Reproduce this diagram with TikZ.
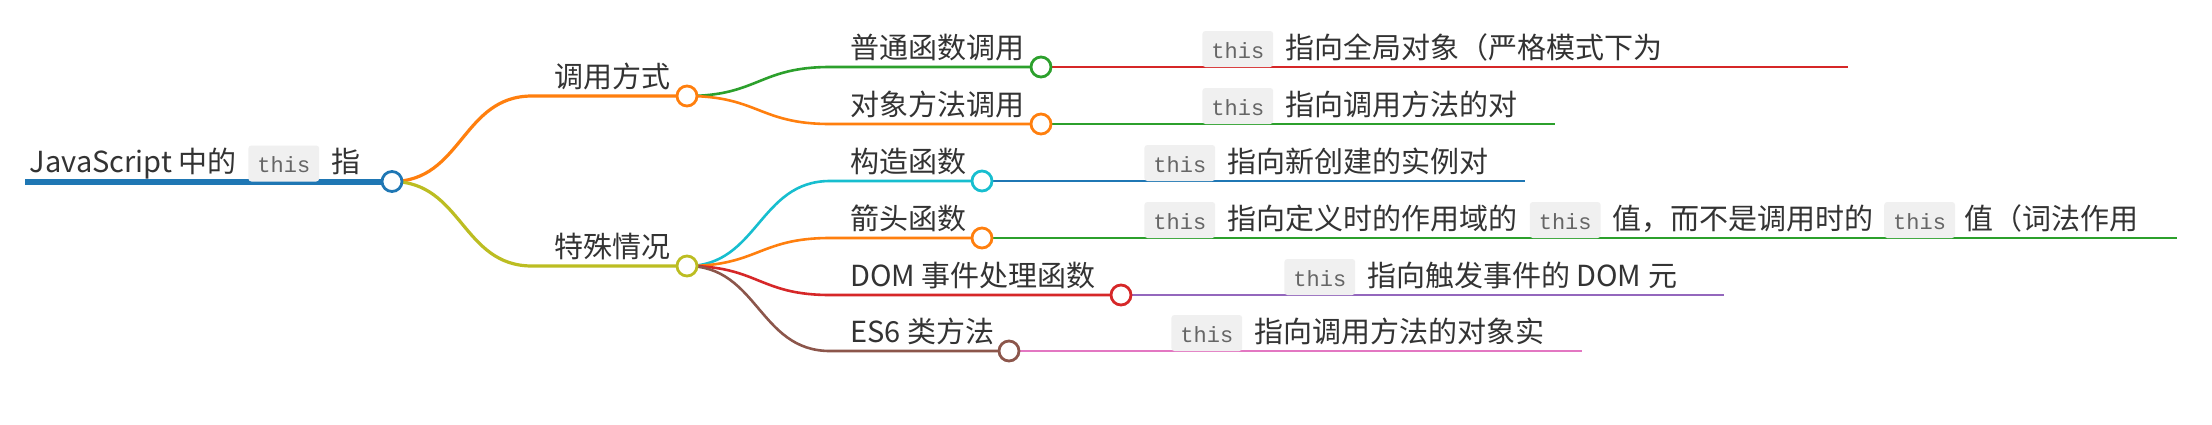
\documentclass[tikz,border=0pt]{standalone}
\usepackage{fontspec}
\setmainfont{Noto Sans CJK SC}
\newfontfamily\codefont{Liberation Mono}
\usetikzlibrary{calc,backgrounds}
\definecolor{cblue}{HTML}{1F77B4}
\definecolor{corange}{HTML}{FF7F0E}
\definecolor{cgreen}{HTML}{2CA02C}
\definecolor{cred}{HTML}{D62728}
\definecolor{cpurple}{HTML}{9467BD}
\definecolor{cbrown}{HTML}{8C564B}
\definecolor{cpink}{HTML}{E377C2}
\definecolor{colive}{HTML}{BCBD22}
\definecolor{ccyan}{HTML}{17BECF}
\definecolor{textgray}{HTML}{333333}
\definecolor{codebg}{HTML}{F0F0F0}
\definecolor{codegray}{HTML}{666666}
\begin{document}
\begin{tikzpicture}[x=0.5pt,y=-0.5pt,
  lbl/.style={anchor=base west, inner sep=0pt, text=textgray,
    font=\fontsize{14.5pt}{17pt}\selectfont},
  lblr/.style={lbl, anchor=base east},
  codebox/.style={anchor=base west, inner xsep=4.5pt, inner ysep=0pt,
    text height=13.5pt, text depth=4.5pt, fill=codebg, rounded corners=1.5pt,
    text=codegray, font=\codefont\fontsize{11pt}{13pt}\selectfont},
  knob/.style={circle, draw=#1, fill=white, line width=1.4pt,
    minimum size=10pt, inner sep=0pt},
  rootline/.style={line width=3pt},
  linkA/.style={line width=1.6pt, line join=round},
  linkB/.style={line width=1.3pt, line join=round},
  leafline/.style={line width=1.2pt},
]
\useasboundingbox (0,0) rectangle (2212,424);

% circles
\node[knob=cblue] (root) at (392,181.5) {};
\node[knob=corange] (a) at (687,96) {};
\node[knob=colive] (b) at (687,266) {};
\node[knob=cgreen] (a1) at (1041,67) {};
\node[knob=corange] (a2) at (1041,124) {};
\node[knob=ccyan] (b1) at (982,181) {};
\node[knob=corange] (b2) at (982,238) {};
\node[knob=cred] (b3) at (1121,295) {};
\node[knob=cbrown] (b4) at (1009,351) {};

% line start/end points
\coordinate (rootS) at (25,181.5);
\coordinate (aS) at (532,96);
\coordinate (bS) at (532,266);
\coordinate (a1S) at (830,67);
\coordinate (a2S) at (830,124);
\coordinate (b1S) at (830,181);
\coordinate (b2S) at (830,238);
\coordinate (b3S) at (830,295);
\coordinate (b4S) at (830,351);
\coordinate (l1E) at (1848,67);
\coordinate (l2E) at (1555,124);
\coordinate (l3E) at (1525,181);
\coordinate (l4E) at (2177,238);
\coordinate (l5E) at (1724,295);
\coordinate (l6E) at (1582,351);

\begin{scope}[on background layer]
\fill[white] (0,0) rectangle (2212,424);
\draw[rootline, cblue] (rootS) -- (root.center);
\draw[linkA, corange] (root.center) .. controls +(70,0) and +(-70,0) .. (aS) -- (a.center);
\draw[linkA, colive] (root.center) .. controls +(70,0) and +(-70,0) .. (bS) -- (b.center);
\draw[linkB, cgreen] (a.center) .. controls +(71,0) and +(-71,0) .. (a1S) -- (a1.center);
\draw[linkB, corange] (a.center) .. controls +(71,0) and +(-71,0) .. (a2S) -- (a2.center);
\draw[linkB, ccyan] (b.center) .. controls +(71,0) and +(-71,0) .. (b1S) -- (b1.center);
\draw[linkB, corange] (b.center) .. controls +(71,0) and +(-71,0) .. (b2S) -- (b2.center);
\draw[linkB, cred] (b.center) .. controls +(71,0) and +(-71,0) .. (b3S) -- (b3.center);
\draw[linkB, cbrown] (b.center) .. controls +(71,0) and +(-71,0) .. (b4S) -- (b4.center);
\draw[leafline, cred] (a1.center) -- (l1E);
\draw[leafline, cgreen] (a2.center) -- (l2E);
\draw[leafline, cblue] (b1.center) -- (l3E);
\draw[leafline, cgreen] (b2.center) -- (l4E);
\draw[leafline, cpurple] (b3.center) -- (l5E);
\draw[leafline, cpink] (b4.center) -- (l6E);
\end{scope}

% root label
\node[codebox] (rt2) at (248,172.5) {this};
\node[lblr] (rt1) at ($(rt2.base west)+(-11,0)$) {JavaScript 中的};
\node[lbl] (rt3) at ($(rt2.base east)+(11,0)$) {指};

% level 1 labels
\node[lbl] (ta) at (554,87) {调用方式};
\node[lbl] (tb) at (554,257) {特殊情况};

% level 2 labels
\node[lbl] (ta1) at (850,58) {普通函数调用};
\node[lbl] (ta2) at (850,115) {对象方法调用};
\node[lbl] (tb1) at (850,172) {构造函数};
\node[lbl] (tb2) at (850,229) {箭头函数};
\node[lbl] (tb3) at (850,286) {DOM 事件处理函数};
\node[lbl] (tb4) at (850,342) {ES6 类方法};

% leaves
\node[codebox] (l1a) at (1202,58) {this};
\node[lbl] (l1b) at ($(l1a.base east)+(11,0)$) {指向全局对象（严格模式下为};

\node[codebox] (l2a) at (1202,115) {this};
\node[lbl] (l2b) at ($(l2a.base east)+(11,0)$) {指向调用方法的对};

\node[codebox] (l3a) at (1144,172) {this};
\node[lbl] (l3b) at ($(l3a.base east)+(11,0)$) {指向新创建的实例对};

\node[codebox] (l4a) at (1144,229) {this};
\node[lbl] (l4b) at ($(l4a.base east)+(11,0)$) {指向定义时的作用域的};
\node[codebox] (l4c) at ($(l4b.base east)+(12,0)$) {this};
\node[lbl] (l4d) at ($(l4c.base east)+(11,0)$) {值，而不是调用时的};
\node[codebox] (l4e) at ($(l4d.base east)+(10,0)$) {this};
\node[lbl] (l4f) at ($(l4e.base east)+(9,0)$) {值（词法作用};

\node[codebox] (l5a) at (1284,286) {this};
\node[lbl] (l5b) at ($(l5a.base east)+(11,0)$) {指向触发事件的 DOM 元};

\node[codebox] (l6a) at (1171,342) {this};
\node[lbl] (l6b) at ($(l6a.base east)+(11,0)$) {指向调用方法的对象实};
\end{tikzpicture}
\end{document}
